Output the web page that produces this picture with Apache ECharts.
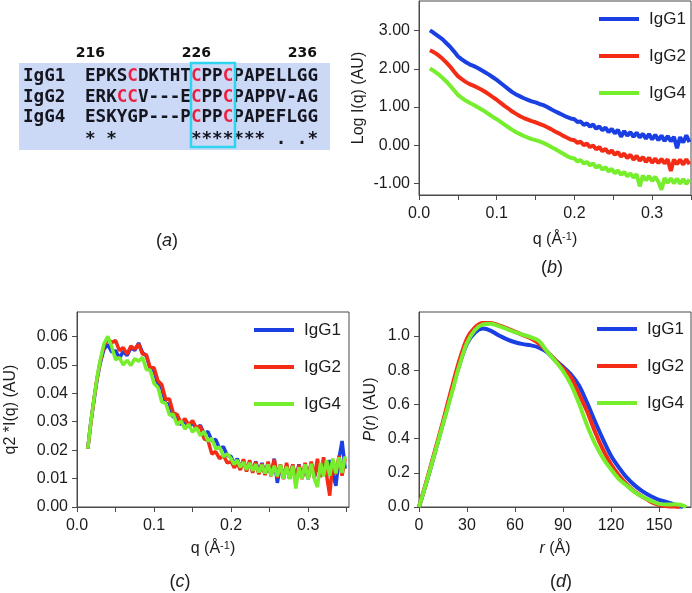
<!DOCTYPE html>
<html><head><meta charset="utf-8">
<script src="https://cdn.jsdelivr.net/npm/echarts@6/dist/echarts.min.js"></script>
<style>html,body{margin:0;padding:0;background:#fff}#c{width:692px;height:593px}</style>
</head><body><div id="c"></div>
<script>
// ---------- DATA ----------
const seriesNames = ['IgG1', 'IgG2', 'IgG4'];
// panel (a) alignment
const residueNumbers = ['216', '226', '236'];
const seqIgG1 = 'EPKSCDKTHTCPPCPAPELLGG';
const seqIgG2 = 'ERKCCV---ECPPCPAPPV-AG';
const seqIgG4 = 'ESKYGP---PCPPCPAPEFLGG';
const consensus = '* *       ******* . .*';
const redIdx1 = [4, 10, 13];
const redIdx2 = [3, 4, 10, 13];
const redIdx4 = [10, 13];

// panels (b),(c): q grid (1/A)
const Q = [0.014,0.018,0.022,0.026,0.030,0.035,0.040,0.045,0.050,0.055,0.060,0.065,0.070,0.075,0.080,0.085,0.090,0.095,0.100,0.105,0.110,0.115,0.120,0.125,0.130,0.135,0.140,0.145,0.150,0.155,0.160,0.165,0.170,0.175,0.180,0.185,0.190,0.195,
 0.200,0.204,0.208,0.212,0.216,0.220,0.224,0.228,0.232,0.236,0.240,0.244,0.248,0.252,0.256,0.260,0.264,0.268,0.272,0.276,0.280,0.284,0.288,0.292,0.296,0.300,0.304,0.308,0.312,0.316,0.320,0.324,0.328,0.332,0.336,0.340,0.344,0.348];

// (b) Log I(q)
const logI_IgG1 = [3.01,2.96,2.90,2.84,2.78,2.68,2.58,2.46,2.33,2.25,2.18,2.12,2.08,2.03,1.97,1.91,1.85,1.78,1.71,1.63,1.55,1.47,1.39,1.33,1.28,1.23,1.19,1.15,1.12,1.08,1.05,1.00,0.94,0.89,0.84,0.79,0.74,0.70,
 0.68,0.61,0.62,0.53,0.57,0.49,0.54,0.43,0.49,0.39,0.46,0.34,0.43,0.31,0.40,0.22,0.37,0.25,0.34,0.22,0.33,0.20,0.30,0.17,0.29,0.15,0.27,0.13,0.25,0.11,0.24,0.10,0.22,-0.08,0.21,0.07,0.26,0.08];
const logI_IgG2 = [2.49,2.45,2.40,2.34,2.27,2.17,2.06,1.93,1.81,1.73,1.66,1.60,1.56,1.51,1.46,1.40,1.33,1.26,1.19,1.11,1.03,0.96,0.88,0.82,0.76,0.71,0.67,0.63,0.60,0.56,0.52,0.47,0.42,0.36,0.31,0.25,0.20,0.15,
 0.13,0.06,0.09,0.00,0.04,-0.05,-0.01,-0.11,-0.05,-0.16,-0.10,-0.21,-0.14,-0.25,-0.18,-0.30,-0.22,-0.34,-0.25,-0.38,-0.28,-0.41,-0.31,-0.44,-0.33,-0.46,-0.35,-0.47,-0.36,-0.48,-0.37,-0.68,-0.38,-0.50,-0.38,-0.51,-0.37,-0.50];
const logI_IgG4 = [2.01,1.96,1.90,1.84,1.77,1.67,1.56,1.44,1.32,1.24,1.17,1.11,1.06,1.00,0.94,0.88,0.81,0.74,0.68,0.61,0.54,0.47,0.40,0.34,0.29,0.24,0.20,0.16,0.13,0.10,0.06,0.01,-0.05,-0.10,-0.16,-0.22,-0.28,-0.33,
 -0.35,-0.43,-0.39,-0.48,-0.44,-0.53,-0.48,-0.59,-0.53,-0.64,-0.58,-0.69,-0.62,-0.74,-0.66,-0.78,-0.70,-0.82,-0.74,-0.85,-0.76,-1.08,-0.80,-0.92,-0.81,-0.94,-0.83,-0.96,-1.17,-0.86,-0.99,-0.87,-1.00,-0.88,-1.01,-0.89,-1.02,-0.90];

// (c) q^2 * I(q)
const kr_IgG1 = [0.0205,0.0298,0.0375,0.0448,0.0505,0.0555,0.0572,0.0545,0.0550,0.0524,0.0547,0.0533,0.0560,0.0551,0.0577,0.0543,0.0532,0.0486,0.0480,0.0431,0.0418,0.0366,0.0360,0.0316,0.0318,0.0289,0.0302,0.0281,0.0297,0.0274,0.0288,0.0259,0.0265,0.0233,0.0238,0.0206,0.0212,0.0181,
 0.0178,0.0150,0.0170,0.0138,0.0162,0.0130,0.0158,0.0125,0.0160,0.0120,0.0155,0.0115,0.0148,0.0112,0.0170,0.0085,0.0145,0.0105,0.0140,0.0100,0.0148,0.0092,0.0150,0.0100,0.0145,0.0098,0.0155,0.0105,0.0150,0.0110,0.0160,0.0108,0.0165,0.0115,0.0075,0.0170,0.0232,0.0135];
const kr_IgG2 = [0.0205,0.0298,0.0378,0.0452,0.0510,0.0568,0.0592,0.0578,0.0586,0.0550,0.0561,0.0538,0.0566,0.0555,0.0573,0.0538,0.0536,0.0490,0.0490,0.0444,0.0431,0.0379,0.0380,0.0330,0.0326,0.0294,0.0311,0.0288,0.0304,0.0277,0.0285,0.0240,0.0234,0.0186,0.0195,0.0170,0.0182,0.0155,
 0.0160,0.0138,0.0155,0.0130,0.0168,0.0125,0.0165,0.0120,0.0158,0.0115,0.0152,0.0112,0.0160,0.0108,0.0168,0.0102,0.0150,0.0098,0.0155,0.0100,0.0150,0.0095,0.0148,0.0098,0.0155,0.0100,0.0160,0.0102,0.0170,0.0105,0.0175,0.0110,0.0040,0.0165,0.0115,0.0180,0.0110,0.0170];
const kr_IgG4 = [0.0205,0.0300,0.0380,0.0455,0.0515,0.0575,0.0600,0.0565,0.0518,0.0526,0.0500,0.0516,0.0498,0.0522,0.0513,0.0527,0.0484,0.0481,0.0434,0.0421,0.0369,0.0366,0.0324,0.0326,0.0289,0.0303,0.0274,0.0291,0.0263,0.0279,0.0251,0.0266,0.0232,0.0241,0.0204,0.0211,0.0177,0.0187,
 0.0170,0.0150,0.0165,0.0140,0.0158,0.0132,0.0155,0.0128,0.0150,0.0122,0.0148,0.0118,0.0150,0.0110,0.0145,0.0108,0.0148,0.0100,0.0142,0.0098,0.0145,0.0065,0.0140,0.0100,0.0150,0.0098,0.0152,0.0100,0.0070,0.0155,0.0108,0.0165,0.0110,0.0170,0.0118,0.0175,0.0120,0.0178];

// (d) P(r)
const R = [0,5,10,15,20,25,30,35,40,45,50,55,60,65,70,75,80,85,90,95,100,105,110,115,120,125,130,135,140,145,150,155,160,163,165,167];
const pr_IgG1 = [0,0.155,0.32,0.49,0.66,0.825,0.955,1.02,1.043,1.03,1.002,0.98,0.963,0.952,0.945,0.932,0.905,0.86,0.82,0.775,0.71,0.61,0.50,0.395,0.30,0.23,0.17,0.125,0.09,0.063,0.042,0.029,0.013,0.005,0.0,null];
const pr_IgG2 = [0,0.16,0.33,0.50,0.68,0.85,0.985,1.05,1.075,1.075,1.062,1.045,1.025,1.005,0.985,0.955,0.91,0.86,0.81,0.758,0.66,0.56,0.44,0.335,0.25,0.185,0.13,0.088,0.058,0.03,0.012,0.004,0.003,0.0,null,null];
const pr_IgG4 = [0,0.155,0.32,0.485,0.65,0.82,0.96,1.035,1.068,1.072,1.058,1.04,1.022,1.007,0.992,0.97,0.91,0.855,0.795,0.715,0.605,0.478,0.37,0.286,0.221,0.163,0.124,0.086,0.059,0.036,0.018,0.014,0.016,0.013,0.008,0.0];

// tick values
const bXLabels = [0, 0.1, 0.2, 0.3];
const bXTicks = [0, 0.05, 0.1, 0.15, 0.2, 0.25, 0.3, 0.35];
const bYLabels = [-1, 0, 1, 2, 3];
const cYLabels = [0, 0.01, 0.02, 0.03, 0.04, 0.05, 0.06];
const dXLabels = [0, 30, 60, 90, 120, 150];
const dYLabels = [0, 0.2, 0.4, 0.6, 0.8, 1.0];

// ---------- STYLE ----------
const colors = ['#1a3fe2', '#f42c16', '#76ee2e'];
const FONT = 'Liberation Sans, Arial, sans-serif';
const axisCol = '#4a4a4a';
const labCol = '#1c1c1c';
const TICKFS = 16;

function pairs(xs, ys) { return xs.map((x, i) => [x, ys[i]]); }

function makeAxis(gi, isX, o) {
  return Object.assign({
    type: 'value', gridIndex: gi,
    axisLine: { show: true, onZero: false, lineStyle: { color: axisCol, width: 1 } },
    splitLine: { show: false },
    nameLocation: 'middle',
    nameTextStyle: { color: labCol, fontFamily: FONT, fontSize: 16 }
  }, o);
}
function lab(vals, fmt, isX) {
  const o = { color: labCol, fontFamily: FONT, fontSize: TICKFS, margin: isX ? 11 : 9, customValues: vals };
  if (fmt) o.formatter = fmt;
  return o;
}
function tick(vals) { return { show: true, inside: false, length: 5, lineStyle: { color: axisCol }, customValues: vals }; }

const supRich = {
  sup: { fontFamily: FONT, fontSize: 11, color: labCol, verticalAlign: 'top', lineHeight: 18 },
  i: { fontFamily: FONT, fontSize: 16, color: labCol, fontStyle: 'italic', lineHeight: 18 },
  n: { fontFamily: FONT, fontSize: 16, color: labCol, lineHeight: 18 }
};

const grids = [
  { left: 419, top: 1, right: 1, bottom: 398 },
  { left: 77, top: 312, right: 343, bottom: 86 },
  { left: 419, top: 312, right: 1, bottom: 86 }
].map(g => Object.assign({ show: true, borderColor: axisCol, borderWidth: 1, backgroundColor: 'transparent', containLabel: false, outerBoundsMode: 'none' }, g));

const xAxes = [
  makeAxis(0, true, { min: 0, max: 0.35, axisLabel: lab(bXLabels, v => v.toFixed(1), true), axisTick: tick(bXTicks),
    name: '{n|q (Å}{sup|-1}{n|)}', nameGap: 36, nameTextStyle: { rich: supRich } }),
  makeAxis(1, true, { min: 0, max: 0.353, axisLabel: lab(bXLabels, v => v.toFixed(1), true), axisTick: tick(bXTicks),
    name: '{n|q (Å}{sup|-1}{n|)}', nameGap: 33, nameTextStyle: { rich: supRich } }),
  makeAxis(2, true, { min: 0, max: 170, axisLabel: lab(dXLabels, null, true), axisTick: tick(dXLabels),
    name: '{i|r}{n| (Å)}', nameGap: 33, nameTextStyle: { rich: supRich } })
];
const yAxes = [
  makeAxis(0, false, { min: -1.307, max: 3.78, axisLabel: lab(bYLabels, v => v.toFixed(2), false), axisTick: tick(bYLabels),
    name: 'Log I(q) (AU)', nameGap: 52 }),
  makeAxis(1, false, { min: 0, max: 0.0686, axisLabel: lab(cYLabels, v => v.toFixed(2), false), axisTick: tick(cYLabels),
    name: 'q2 *I(q) (AU)', nameGap: 58 }),
  makeAxis(2, false, { min: 0, max: 1.14, axisLabel: lab(dYLabels, v => v.toFixed(1), false), axisTick: tick(dYLabels),
    name: '{i|P}{n|(}{i|r}{n|) (AU)}', nameGap: 39, nameTextStyle: { rich: supRich } })
];

const panelData = [
  [logI_IgG1, logI_IgG2, logI_IgG4],
  [kr_IgG1, kr_IgG2, kr_IgG4],
  [pr_IgG1, pr_IgG2, pr_IgG4]
];
const panelX = [Q, Q, R];
const widths = [4, 3.5, 4];
const series = [];
panelData.forEach((arrs, gi) => {
  arrs.forEach((ys, si) => {
    series.push({
      type: 'line', name: seriesNames[si], xAxisIndex: gi, yAxisIndex: gi,
      data: pairs(panelX[gi], ys), showSymbol: false, symbol: 'none',
      lineStyle: { color: colors[si], width: widths[gi] }, itemStyle: { color: colors[si] },
      smooth: gi === 2 ? 0.3 : false, animation: false, z: 2 + si
    });
  });
});

function makeLegend(left, top) {
  return {
    left: left, top: top, orient: 'vertical', icon: 'rect', itemWidth: 40, itemHeight: 4,
    itemGap: 17, selectedMode: false, data: seriesNames,
    textStyle: { fontFamily: FONT, fontSize: 17, color: labCol, lineHeight: 20, padding: [0, 0, 0, 5] }
  };
}

// ---------- panel (a) graphics ----------
const MONO = 'DejaVu Sans Mono, Liberation Mono, monospace';
const CW = 10.6, seqX = 85, rowsY = [76, 97, 117, 137];
function richSeq(seq, reds) {
  let s = '';
  for (let i = 0; i < seq.length; i++) {
    s += reds.indexOf(i) >= 0 ? '{r|' + seq[i] + '}' : '{k|' + seq[i] + '}';
  }
  return s;
}
const monoStyle = { fontFamily: MONO, fontWeight: 'bold', fontSize: 17.6 };
const seqRich = {
  k: Object.assign({ fill: '#15151f' }, monoStyle),
  r: Object.assign({ fill: '#ee2040' }, monoStyle)
};
function monoText(text, x, y) {
  return { type: 'text', x: x, y: y, silent: true, z: 10,
    style: Object.assign({ text: text, fill: '#15151f', verticalAlign: 'middle', align: 'left', rich: seqRich }, monoStyle) };
}
const labelRich = {
  n: { fontFamily: FONT, fontSize: 18, fill: labCol },
  i: { fontFamily: FONT, fontSize: 18, fill: labCol, fontStyle: 'italic' }
};
function panelLabel(letter, x, y) {
  return { type: 'text', x: x, y: y, silent: true,
    style: { text: '{n|(}{i|' + letter + '}{n|)}', rich: labelRich, align: 'center', verticalAlign: 'middle' } };
}
const graphics = [
  { type: 'rect', shape: { x: 19, y: 63, width: 311, height: 87 }, style: { fill: '#cbd8f6' }, z: 1, silent: true },
  { type: 'rect', shape: { x: 191, y: 63, width: 44, height: 84 }, style: { fill: 'none', stroke: '#2ed4f0', lineWidth: 2.5 }, z: 11, silent: true },
  monoText('{k|IgG1}', 23, rowsY[0]),
  monoText('{k|IgG2}', 23, rowsY[1]),
  monoText('{k|IgG4}', 23, rowsY[2]),
  monoText(richSeq(seqIgG1, redIdx1), seqX, rowsY[0]),
  monoText(richSeq(seqIgG2, redIdx2), seqX, rowsY[1]),
  monoText(richSeq(seqIgG4, redIdx4), seqX, rowsY[2]),
  monoText(richSeq(consensus, []), seqX, rowsY[3] + 2),
  panelLabel('a', 167, 241),
  panelLabel('b', 552, 268),
  panelLabel('c', 180, 582),
  panelLabel('d', 561, 582)
];
[0, 10, 20].forEach((idx, k) => {
  graphics.push({ type: 'text', x: seqX + idx * CW + CW / 2, y: 53, silent: true,
    style: { text: residueNumbers[k], fontFamily: 'DejaVu Sans, sans-serif', fontWeight: 'bold', fontSize: 14, fill: '#111', align: 'center', verticalAlign: 'middle' } });
});

const chart = echarts.init(document.getElementById('c'), null, { renderer: 'canvas' });
chart.setOption({
  animation: false,
  backgroundColor: '#fff',
  grid: grids,
  xAxis: xAxes,
  yAxis: yAxes,
  legend: [makeLegend(594, 4), makeLegend(249, 315), makeLegend(592, 314)],
  series: series,
  graphic: graphics
});
</script></body></html>
